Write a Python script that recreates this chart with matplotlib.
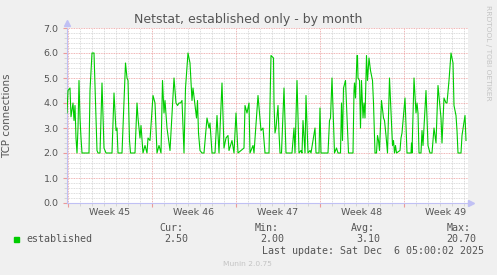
import datetime as dt
import matplotlib
matplotlib.use("Agg")
import matplotlib.pyplot as plt
import matplotlib.dates as mdates
from matplotlib.patches import Rectangle
from matplotlib.ticker import MultipleLocator, NullFormatter, FormatStrFormatter
from matplotlib.transforms import blended_transform_factory

# graph start, samples are hours after it
start = dt.datetime(2025, 10, 26, 23, 0)

hours = [0, 2, 6, 8, 12, 14, 16, 18, 20, 22, 24, 26, 28, 30, 44, 46, 50, 54, 57, 60,
         62, 66, 70, 74, 78, 90, 94, 98, 100, 102, 110, 114, 117, 120, 122, 125, 127, 136, 140, 142,
         146, 148, 152, 156, 160, 162, 166, 168, 172, 176, 180, 184, 188, 191, 194, 196, 200, 206, 214, 218,
         221, 224, 227, 230, 234, 237, 242, 246, 250, 252, 256, 259, 261, 263, 266, 270, 274, 280, 284, 286,
         290, 296, 300, 304, 310, 314, 318, 322, 324, 330, 334, 338, 342, 348, 354, 356, 360, 364, 366, 372,
         374, 382, 388, 392, 396, 404, 408, 413, 414, 416, 418, 422, 424, 426, 429, 434, 438, 450, 454, 456,
         460, 464, 468, 470, 472, 476, 478, 482, 486, 488, 496, 498, 504, 506, 508, 522, 525, 527, 530, 535,
         539, 542, 547, 549, 551, 553, 557, 563, 572, 574, 575, 577, 580, 581, 582, 585, 587, 589, 592, 594,
         596, 599, 601, 604, 607, 611, 613, 616, 619, 621, 623, 625, 629, 633, 635, 638, 641, 645, 651, 653,
         655, 657, 659, 666, 668, 670, 676, 680, 688, 689, 690, 694, 698, 700, 702, 704, 708, 710, 712, 718,
         722, 726, 730, 734, 738, 742, 748, 750, 754, 758, 760, 764, 768, 772, 774, 778, 780, 782, 788, 790,
         796, 798]
established = [3.6, 4.5, 4.6, 3.45, 4.0, 3.3, 3.9, 2.6, 2.0, 3.0, 4.9, 3.4, 2.6, 2.0, 2.0, 4.5, 6.0, 6.0, 4.0, 2.1,
               2.0, 2.0, 4.8, 2.2, 2.0, 2.0, 4.4, 2.9, 3.0, 2.0, 2.0, 4.0, 5.6, 5.0, 4.9, 2.5, 2.0, 2.0, 4.0, 3.4,
               2.6, 3.1, 2.0, 2.3, 2.0, 2.6, 2.5, 3.1, 4.3, 4.0, 2.0, 2.3, 2.0, 4.9, 3.6, 4.1, 3.0, 2.1, 5.0, 4.0,
               3.9, 4.0, 4.0, 4.1, 2.0, 4.6, 6.0, 5.6, 4.1, 4.6, 3.9, 3.4, 4.1, 2.8, 2.1, 2.0, 2.0, 3.4, 3.0, 3.2,
               2.0, 2.0, 3.5, 2.0, 4.8, 2.2, 2.6, 2.7, 2.1, 2.5, 2.0, 3.6, 2.0, 2.1, 2.2, 3.9, 3.6, 4.0, 2.0, 2.3,
               2.0, 4.3, 2.9, 3.0, 2.0, 2.0, 5.9, 5.8, 4.0, 2.8, 3.0, 3.9, 2.8, 2.0, 2.0, 4.6, 2.0, 2.0, 3.0, 2.0,
               4.9, 2.0, 2.1, 2.0, 3.3, 2.0, 4.3, 2.0, 2.1, 2.0, 3.0, 2.0, 2.0, 3.8, 2.0, 2.0, 3.3, 3.4, 5.0, 2.0,
               2.2, 2.0, 2.0, 4.0, 2.5, 4.6, 4.9, 2.0, 2.0, 4.5, 4.8, 4.2, 5.9, 5.9, 5.0, 4.9, 3.0, 4.9, 3.4, 4.0,
               3.4, 5.9, 4.9, 5.8, 5.3, 4.9, 4.0, 2.0, 2.0, 2.7, 2.5, 2.1, 4.1, 3.4, 3.3, 2.7, 2.0, 5.0, 2.3, 2.5,
               2.0, 2.3, 2.0, 2.1, 2.6, 2.8, 4.2, 2.0, 2.0, 2.4, 2.0, 5.0, 3.6, 4.0, 3.6, 2.0, 2.0, 2.9, 2.3, 4.5,
               2.3, 2.0, 2.0, 3.0, 2.4, 4.7, 3.4, 2.4, 4.2, 4.0, 4.0, 4.9, 6.0, 5.6, 3.9, 3.5, 2.9, 2.0, 2.0, 2.7,
               3.5, 2.5]

week_labels = ["Week 45", "Week 46", "Week 47", "Week 48", "Week 49"]
stat_labels = ["Cur:", "Min:", "Avg:", "Max:"]
stat_values = ["2.50", "2.00", "3.10", "20.70"]
last_update = "Last update: Sat Dec  6 05:00:02 2025"

W, H = 497, 275
TXT = "#555555"
mono = "DejaVu Sans Mono"

times = [start + dt.timedelta(hours=h) for h in hours]
end = start + dt.timedelta(hours=802)

fig = plt.figure(figsize=(W / 100, H / 100), dpi=100, facecolor="#f0f0f0")
ax = fig.add_axes([67 / W, 72 / H, 401 / W, 175 / H])
ax.set_facecolor("white")
ax.plot(times, established, color="#00cc00", lw=0.8, zorder=3)

ax.set_xlim(start, end)
ax.set_ylim(0, 7)

# grid: day / week and 0.2 / 1.0
ax.xaxis.set_major_locator(mdates.WeekdayLocator(byweekday=mdates.MO))
ax.xaxis.set_minor_locator(mdates.DayLocator())
ax.xaxis.set_major_formatter(NullFormatter())
ax.yaxis.set_major_locator(MultipleLocator(1))
ax.yaxis.set_minor_locator(MultipleLocator(0.2))
ax.yaxis.set_major_formatter(FormatStrFormatter("%.1f"))
ax.set_axisbelow(True)
ax.grid(which="minor", color="#d0d0d0", ls=(0, (1, 1)), lw=0.6)
ax.grid(which="major", color="#eb9a9a", ls=(0, (1, 1)), lw=0.6)
ax.tick_params(which="major", length=3, color="#eb9a9a", labelsize=6.8, labelcolor=TXT, pad=3)
ax.tick_params(which="minor", length=2, color="#d0d0d0")

for s in ["top", "right"]:
    ax.spines[s].set_visible(False)
for s in ["left", "bottom"]:
    ax.spines[s].set_color("#c0c0f4")
    ax.spines[s].set_linewidth(0.8)
ax.plot([0], [1.027], marker="^", ms=4, color="#c0c0f4", transform=ax.transAxes, clip_on=False)
ax.plot([1.008], [0], marker=">", ms=4, color="#c0c0f4", transform=ax.transAxes, clip_on=False)

# week labels centred between the monday lines
trans = blended_transform_factory(ax.transData, ax.transAxes)
monday = dt.datetime(2025, 10, 27)
for lab in week_labels:
    mid = monday + dt.timedelta(days=3.5)
    ax.text(mdates.date2num(mid), -0.057, lab, transform=trans,
            ha="center", va="center", fontsize=6.8, color=TXT)
    monday += dt.timedelta(days=7)

ax.set_ylabel("TCP connections", fontsize=7.4, color=TXT, labelpad=0)
ax.yaxis.set_label_coords(-55 / 401, 0.5)

fig.text(248.5 / W, 1 - 19 / H, "Netstat, established only - by month",
         ha="center", va="center", fontsize=9, color=TXT)
fig.text(488 / W, 1 - 53 / H, "RRDTOOL / TOBI OETIKER", rotation=270,
         ha="center", va="center", fontsize=5.4, color="#c4c4c4")

# legend block
fig.add_artist(Rectangle((14 / W, 1 - 242 / H), 5 / W, 5 / H, transform=fig.transFigure,
                         color="#00cc00"))
fig.text(26 / W, 1 - 239.3 / H, "established", family=mono, fontsize=7.2,
         color=TXT, va="center")
lab_x = [159, 254.7, 351, 446.7]
val_x = [164.3, 260.7, 356.7, 446.7]
for lx, vx, lab, val in zip(lab_x, val_x, stat_labels, stat_values):
    fig.text(lx / W, 1 - 227.7 / H, lab, family=mono, fontsize=7.2, color=TXT, va="center")
    fig.text(vx / W, 1 - 239.3 / H, val, family=mono, fontsize=7.2, color=TXT, va="center")
fig.text(261.7 / W, 1 - 251 / H, last_update, family=mono, fontsize=7.2, color=TXT, va="center")
fig.text(247.8 / W, 1 - 264.3 / H, "Munin 2.0.75", ha="center", va="center",
         fontsize=5.4, color="#c4c4c4")

fig.savefig("out.png", dpi=100, facecolor=fig.get_facecolor())
